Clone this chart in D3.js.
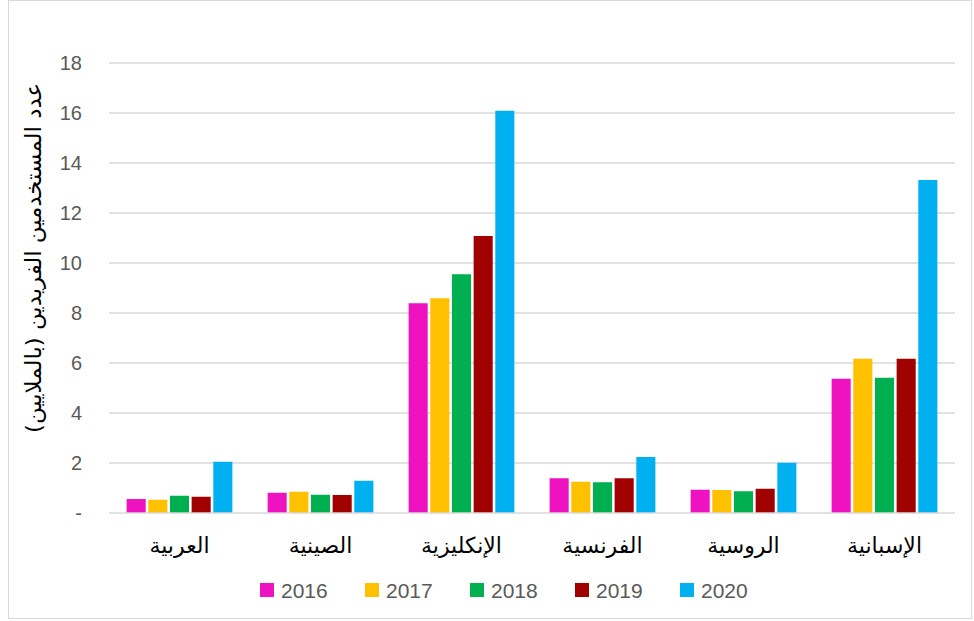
<!DOCTYPE html>
<html lang="ar">
<head>
    <meta charset="UTF-8">
    <title>Unique users by language</title>
    <script src="https://cdn.jsdelivr.net/npm/d3@7"></script>
    <style>
        body { margin: 0; background: white; }
        .tick text { font-family: 'Liberation Sans', Arial, sans-serif; font-size: 20px; fill: #595959; }
        .cat { font-family: 'DejaVu Sans', sans-serif; font-size: 22px; fill: #000; }
        .legend text { font-family: 'Liberation Sans', Arial, sans-serif; font-size: 21px; fill: #595959; }
    </style>
</head>
<body>
    <div id="chart"></div>
    <script>
        // categories (left to right as in the picture)
        const languages = ["العربية", "الصينية", "الإنكليزية", "الفرنسية", "الروسية", "الإسبانية"];
        const years = ["2016", "2017", "2018", "2019", "2020"];
        const yTicks = [0, 2, 4, 6, 8, 10, 12, 14, 16, 18];
        const yTitle = "عدد المستخدمين الفريدين (بالملايين)";

        // values per year, one per language (millions)
        const v2016 = [0.56, 0.81, 8.39, 1.39, 0.93, 5.37];
        const v2017 = [0.53, 0.85, 8.59, 1.25, 0.92, 6.17];
        const v2018 = [0.69, 0.73, 9.55, 1.23, 0.87, 5.41];
        const v2019 = [0.65, 0.72, 11.08, 1.39, 0.97, 6.17];
        const v2020 = [2.05, 1.29, 16.09, 2.24, 2.01, 13.32];
        const colors = ["#ee12c0", "#ffc000", "#00b050", "#a00000", "#00b0f0"];

        const series = [v2016, v2017, v2018, v2019, v2020];
        const table = languages.map((lang, i) => ({
            lang: lang,
            values: years.map((y, j) => ({ year: y, value: series[j][i] }))
        }));

        const width = 974, height = 621;
        const svg = d3.select("#chart").append("svg")
            .attr("width", width).attr("height", height);

        // chart frame
        svg.append("rect")
            .attr("x", 8.5).attr("y", 0.5)
            .attr("width", 963).attr("height", 618)
            .attr("fill", "none").attr("stroke", "#d9d9d9");

        const plot = { left: 109, right: 955, top: 63, bottom: 513 };

        const x0 = d3.scaleBand().domain(languages)
            .range([plot.left, plot.right])
            .paddingInner(0.25).paddingOuter(0.125);
        const x1 = d3.scaleBand().domain(years)
            .range([0, x0.bandwidth()])
            .paddingInner(0.12);
        const y = d3.scaleLinear().domain([0, 18]).range([plot.bottom, plot.top]);
        const color = d3.scaleOrdinal().domain(years).range(colors);

        // gridlines
        svg.append("g")
            .selectAll("line")
            .data(yTicks.filter(t => t > 0))
            .enter().append("line")
            .attr("x1", plot.left).attr("x2", plot.right)
            .attr("y1", d => y(d)).attr("y2", d => y(d))
            .attr("stroke", "#d9d9d9").attr("stroke-width", 1.3);

        // y axis labels
        const yAxis = svg.append("g")
            .attr("transform", `translate(${plot.left},0)`)
            .call(d3.axisLeft(y).tickValues(yTicks)
                .tickFormat(d => d === 0 ? "-" : d)
                .tickSize(0).tickPadding(27));
        yAxis.select(".domain").remove();

        // bars
        svg.append("g")
            .selectAll("g")
            .data(table)
            .enter().append("g")
            .attr("transform", d => `translate(${x0(d.lang)},0)`)
            .selectAll("rect")
            .data(d => d.values)
            .enter().append("rect")
            .attr("x", d => x1(d.year))
            .attr("width", x1.bandwidth())
            .attr("y", d => y(d.value))
            .attr("height", d => y(0) - y(d.value))
            .attr("fill", d => color(d.year));

        // baseline
        svg.append("line")
            .attr("x1", plot.left).attr("x2", plot.right)
            .attr("y1", y(0)).attr("y2", y(0))
            .attr("stroke", "#d9d9d9").attr("stroke-width", 1.5);

        // category labels
        svg.append("g")
            .selectAll("text")
            .data(languages)
            .enter().append("text")
            .attr("class", "cat")
            .attr("x", d => x0(d) + x0.bandwidth() / 2)
            .attr("y", 553)
            .attr("text-anchor", "middle")
            .attr("direction", "rtl")
            .text(d => d);

        // y axis title
        svg.append("text")
            .attr("class", "cat")
            .attr("transform", "translate(41,258) rotate(-90)")
            .attr("text-anchor", "middle")
            .attr("direction", "rtl")
            .attr("textLength", 350)
            .attr("lengthAdjust", "spacingAndGlyphs")
            .text(yTitle);

        // legend
        const legend = svg.append("g").attr("class", "legend")
            .selectAll("g")
            .data(years)
            .enter().append("g")
            .attr("transform", (d, i) => `translate(${260 + i * 105},590)`);
        legend.append("rect")
            .attr("x", 0).attr("y", -7)
            .attr("width", 14).attr("height", 14)
            .attr("fill", d => color(d));
        legend.append("text")
            .attr("x", 21).attr("y", 7.5)
            .text(d => d);
    </script>
</body>
</html>
